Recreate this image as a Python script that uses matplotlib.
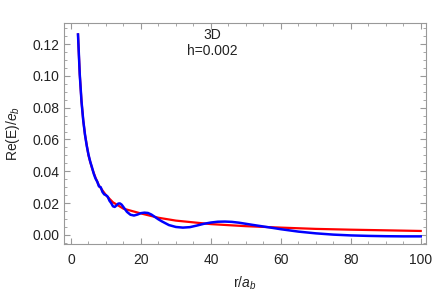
import matplotlib.pyplot as plt
from matplotlib.ticker import MultipleLocator

plt.rcParams['font.family'] = ['Liberation Sans', 'DejaVu Sans']
plt.rcParams['mathtext.fontset'] = 'custom'
plt.rcParams['mathtext.it'] = 'Liberation Sans:italic'
plt.rcParams['mathtext.rm'] = 'Liberation Sans'

# red curve (smooth reference)
r_red = [2, 2.5, 3, 3.5, 4, 5, 6, 7, 8, 10, 12, 15, 20, 25, 30, 40, 50, 60, 70, 80, 90, 100]
e_red = [0.126, 0.101, 0.084, 0.072, 0.063, 0.050, 0.042, 0.036, 0.031, 0.025, 0.0205,
         0.0165, 0.0135, 0.0108, 0.0090, 0.0068, 0.0055, 0.0046, 0.0038, 0.0033, 0.0029, 0.0025]

# blue curve (oscillating)
r_blue = [2, 2.5, 3, 3.5, 4, 4.5, 5, 5.5, 6, 6.5, 7, 7.5, 8, 8.5, 9, 9.5, 10, 10.5, 11, 11.5,
          12, 12.5, 13, 13.5, 14, 14.5, 15, 16, 17, 18, 19, 20, 21, 22, 23, 24, 25, 26, 28,
          30, 32, 34, 36, 38, 40, 42, 44, 46, 48, 50, 52, 55, 58, 60, 65, 70, 75, 80, 85,
          90, 95, 100]
e_blue = [0.126, 0.101, 0.084, 0.072, 0.063, 0.056, 0.0505, 0.046, 0.0425, 0.0385, 0.0355,
          0.0335, 0.0305, 0.0300, 0.0270, 0.0255, 0.0250, 0.0240, 0.0215, 0.0200, 0.0180,
          0.0176, 0.0185, 0.0197, 0.0198, 0.0190, 0.0175, 0.0145, 0.0127, 0.0122, 0.0128,
          0.0137, 0.0140, 0.0138, 0.0128, 0.0113, 0.0098, 0.0085, 0.0062, 0.0050, 0.0046,
          0.0049, 0.0059, 0.0070, 0.0078, 0.0083, 0.0084, 0.0082, 0.0077, 0.0070, 0.0063,
          0.0053, 0.0043, 0.0036, 0.0021, 0.0010, 0.0002, -0.0003, -0.0006, -0.0008,
          -0.0009, -0.0009]

fig = plt.figure(figsize=(4.36, 2.99), dpi=100)
ax = fig.add_axes([0.1468, 0.185, 0.8302, 0.737])

ax.plot(r_red, e_red, color='#ff0000', lw=1.6)
ax.plot(r_blue, e_blue, color='#0000ff', lw=1.8)

ax.set_xlim(-2, 101.5)
ax.set_ylim(-0.0055, 0.133)
ax.xaxis.set_major_locator(MultipleLocator(20))
ax.xaxis.set_minor_locator(MultipleLocator(5))
ax.yaxis.set_major_locator(MultipleLocator(0.02))
ax.yaxis.set_minor_locator(MultipleLocator(0.005))
ax.yaxis.set_major_formatter(plt.FuncFormatter(lambda v, p: '%.2f' % v))

for s in ax.spines.values():
    s.set_color('#999999')
    s.set_linewidth(0.8)
ax.tick_params(which='both', direction='in', top=True, right=True,
               color='#999999', labelsize=10, labelcolor='#222222')
ax.tick_params(which='major', length=4)
ax.tick_params(which='minor', length=2.5)
ax.tick_params(axis='x', pad=7)
ax.tick_params(axis='y', pad=3)

ax.set_xlabel('r/$a_b$', fontsize=10, color='#222222', labelpad=5)
ax.set_ylabel('Re(E)/$e_b$', fontsize=10, color='#222222', labelpad=8)

ax.text(0.409, 0.91, '3D\nh=0.002', transform=ax.transAxes, ha='center', va='center',
        fontsize=10, color='#222222', linespacing=1.15)

fig.savefig('out.png', dpi=100)
